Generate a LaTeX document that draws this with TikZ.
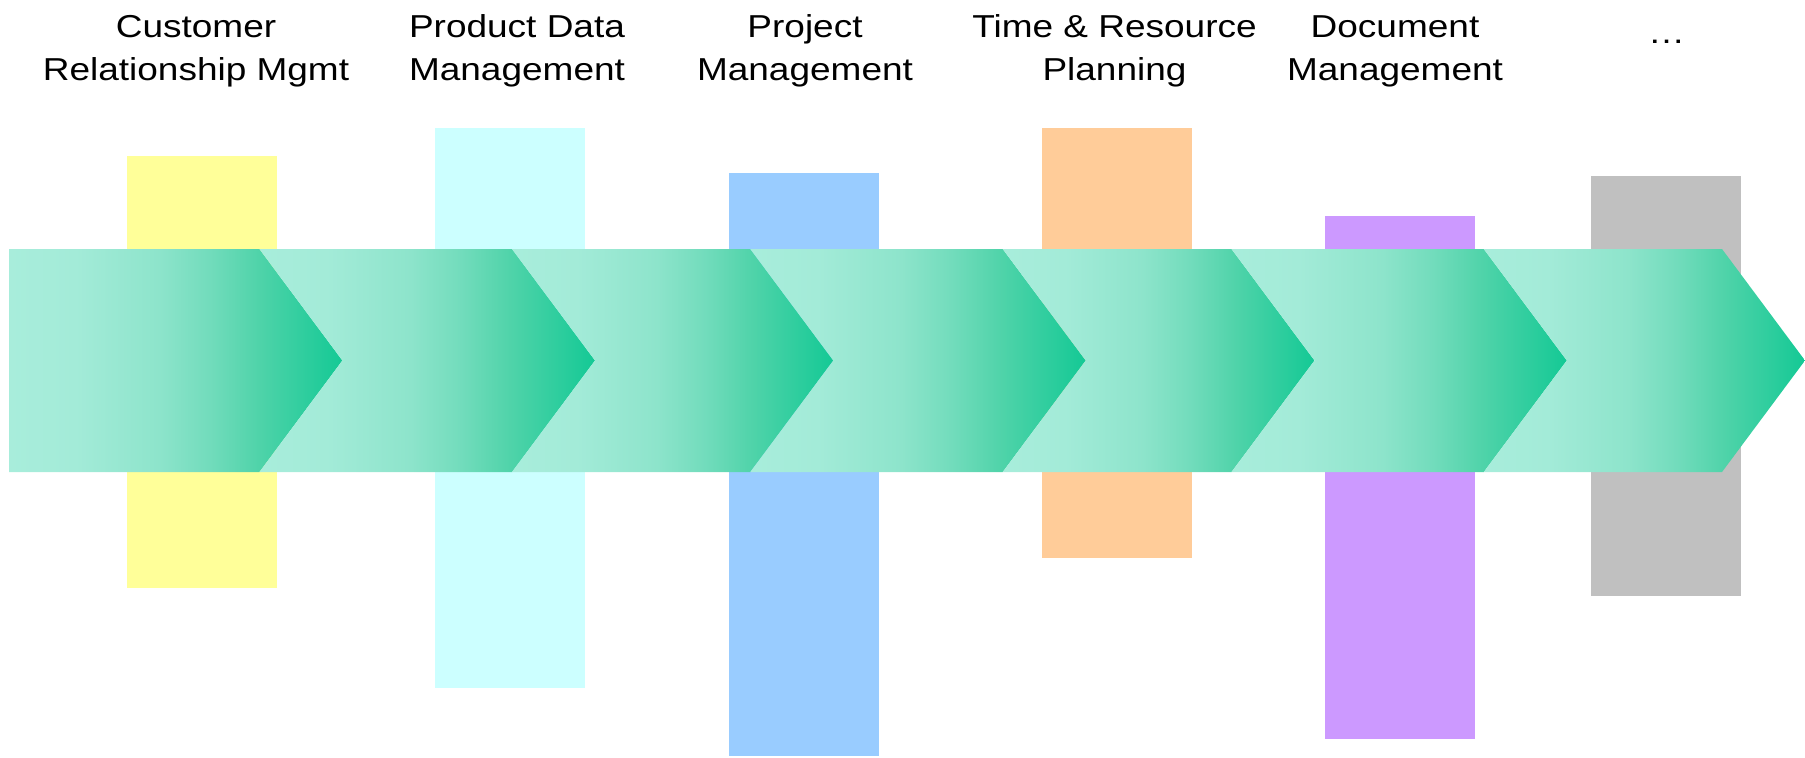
\documentclass[tikz,border=0pt]{standalone}
\usepackage{fontspec}
\setmainfont{Liberation Sans}
\usepackage{graphicx}
\definecolor{chl}{HTML}{A8EDDB}
\definecolor{chla}{HTML}{A3EBD8}
\definecolor{chm}{HTML}{8DE4CB}
\definecolor{chmb}{HTML}{72DCBC}
\definecolor{chmc}{HTML}{4FD3A9}
\definecolor{chd}{HTML}{14C995}
\definecolor{byellow}{HTML}{FFFF99}
\definecolor{bcyan}{HTML}{CCFFFF}
\definecolor{bblue}{HTML}{99CCFF}
\definecolor{borange}{HTML}{FFCC99}
\definecolor{bpurple}{HTML}{CC99FF}
\definecolor{bgray}{HTML}{C0C0C0}
\pgfdeclarehorizontalshading{chevshade}{100bp}{color(0bp)=(chl); color(25bp)=(chl); color(35bp)=(chla); color(47.5bp)=(chm); color(55bp)=(chmb); color(62.5bp)=(chmc); color(75bp)=(chd); color(100bp)=(chd)}
\newcommand{\lbltext}[1]{\scalebox{1.167}[1]{\begin{tabular}[t]{@{}c@{}}#1\end{tabular}}}
\tikzset{
  lbl/.style={inner sep=0pt, anchor=base, font=\fontsize{15.85}{21.65}\selectfont},
  chev/.style={shading=chevshade, draw=none},
  bar/.style={draw=none}
}
\begin{document}
\begin{tikzpicture}[x=0.5pt, y=-0.5pt]
\useasboundingbox (0,0) rectangle (1805,757);
% bars
\fill[byellow] (127,155.5) rectangle (276.5,588);
\fill[bcyan] (435,128) rectangle (585,687.5);
\fill[bblue] (729,173) rectangle (879,756);
\fill[borange] (1042,128) rectangle (1191.5,558);
\fill[bpurple] (1325,216) rectangle (1475,739);
\fill[bgray] (1591,176) rectangle (1741,596);
% chevrons
\shade[chev] (9,249) -- (259.4,249) -- (342.4,360.5) -- (259.4,472) -- (9,472) -- cycle;
\shade[chev] (259.4,249) -- (512,249) -- (595,360.5) -- (512,472) -- (259.4,472) -- (342.4,360.5) -- cycle;
\shade[chev] (512,249) -- (750.3,249) -- (833.3,360.5) -- (750.3,472) -- (512,472) -- (595,360.5) -- cycle;
\shade[chev] (750.3,249) -- (1002.7,249) -- (1085.7,360.5) -- (1002.7,472) -- (750.3,472) -- (833.3,360.5) -- cycle;
\shade[chev] (1002.7,249) -- (1231.5,249) -- (1314.5,360.5) -- (1231.5,472) -- (1002.7,472) -- (1085.7,360.5) -- cycle;
\shade[chev] (1231.5,249) -- (1483.8,249) -- (1566.8,360.5) -- (1483.8,472) -- (1231.5,472) -- (1314.5,360.5) -- cycle;
\shade[chev] (1483.8,249) -- (1722,249) -- (1805,360.5) -- (1722,472) -- (1483.8,472) -- (1566.8,360.5) -- cycle;
% labels
\node[lbl] (l1) at (196,37) {\lbltext{Customer\\Relationship Mgmt}};
\node[lbl] (l2) at (517,37) {\lbltext{Product Data\\Management}};
\node[lbl] (l3) at (805,37) {\lbltext{Project\\Management}};
\node[lbl] (l4) at (1114.5,37) {\lbltext{Time \& Resource\\Planning}};
\node[lbl] (l5) at (1395,37) {\lbltext{Document\\Management}};
\node[lbl] (l6) at (1666.5,43) {\lbltext{…}};
\end{tikzpicture}
\end{document}
